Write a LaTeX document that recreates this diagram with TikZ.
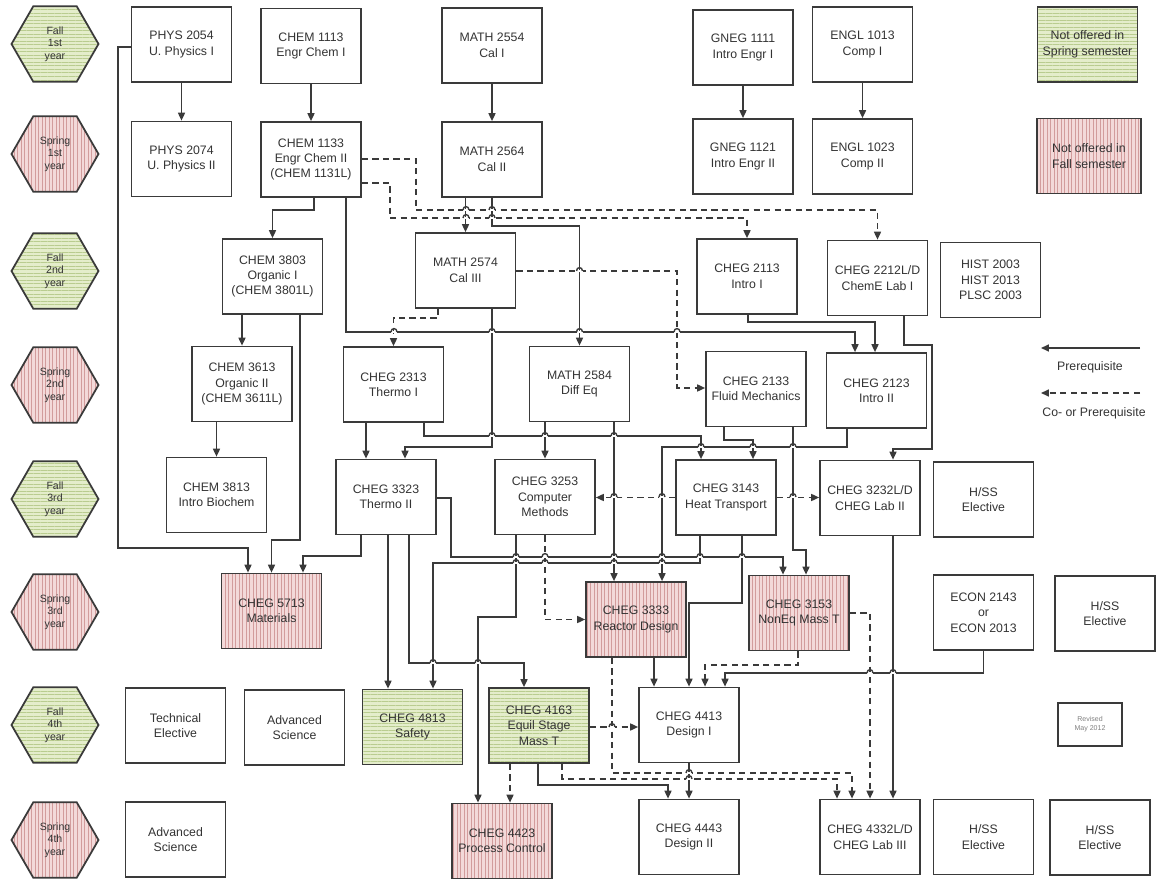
\documentclass[tikz,border=0pt]{standalone}
\usepackage{fontspec}
\setmainfont{Liberation Sans}
\usetikzlibrary{arrows.meta,shapes.geometric,patterns.meta}
\definecolor{linec}{HTML}{3A3A3A}
\definecolor{textc}{HTML}{333333}
\definecolor{greenbg}{HTML}{E4EDCB}
\definecolor{greenln}{HTML}{B9CC8F}
\definecolor{pinkbg}{HTML}{F3D9D9}
\definecolor{pinkln}{HTML}{D29C9C}
\newcommand\crsfont{\fontsize{7}{8.8}\selectfont}
\newcommand\hexfont{\fontsize{6}{7}\selectfont}
\newcommand\revfont{\fontsize{4}{5}\selectfont}
\begin{document}
\begin{tikzpicture}[x=0.02cm,y=-0.02cm]
        \tikzset{course/.style = {draw=linec,line width=1pt,fill=white,align=center,font=\crsfont,text=textc,inner sep=1pt,minimum width=2cm,minimum height=1.5cm}};
        \tikzset{fallonly/.style = {course,preaction={fill=greenbg},pattern={Lines[angle=0,distance=2pt,line width=0.35pt]},pattern color=greenln}};
        \tikzset{springonly/.style = {course,preaction={fill=pinkbg},pattern={Lines[angle=90,distance=2pt,line width=0.35pt]},pattern color=pinkln}};
        \tikzset{term/.style = {regular polygon,regular polygon sides=6,minimum size=1.74cm,inner sep=0pt,draw=linec,line width=1pt,align=center,font=\hexfont,text=textc}};
        \tikzset{fallterm/.style = {term,preaction={fill=greenbg},pattern={Lines[angle=0,distance=2pt,line width=0.35pt]},pattern color=greenln}};
        \tikzset{springterm/.style = {term,preaction={fill=pinkbg},pattern={Lines[angle=90,distance=2pt,line width=0.35pt]},pattern color=pinkln}};
        \tikzset{pre/.style = {draw=linec,line width=0.8pt,-{Triangle[length=4.5pt,width=4pt]}}};
        \tikzset{co/.style = {pre,dash pattern=on 3.5pt off 2.5pt}};
        \tikzset{link/.style = {draw=linec,line width=0.8pt}};
        \tikzset{hop/.pic = {\fill[white] (-3,-1.3) rectangle (3,1.3); \draw[link] (-3,0) .. controls (-3,-4.5) and (3,-4.5) .. (3,0);}};
        \useasboundingbox (0,0) rectangle (1156,881);
        \node[fallterm] (hexF1) at (55,44) {Fall\\1st\\year};
        \node[springterm] (hexS1) at (55,154) {Spring\\1st\\year};
        \node[fallterm] (hexF2) at (55,271) {Fall\\2nd\\year};
        \node[springterm] (hexS2) at (55,385) {Spring\\2nd\\year};
        \node[fallterm] (hexF3) at (55,499) {Fall\\3rd\\year};
        \node[springterm] (hexS3) at (55,612) {Spring\\3rd\\year};
        \node[fallterm] (hexF4) at (55,725) {Fall\\4th\\year};
        \node[springterm] (hexS4) at (55,840) {Spring\\4th\\year};
        \node[course] (physA) at (181.5,44.5) {PHYS 2054\\U. Physics I};
        \node[course] (chemA) at (311,46) {CHEM 1113\\Engr Chem I};
        \node[course] (mathA) at (492,45.5) {MATH 2554\\Cal I};
        \node[course] (gnegA) at (743,47.5) {GNEG 1111\\Intro Engr I};
        \node[course] (englA) at (862.5,44.5) {ENGL 1013\\Comp I};
        \node[fallonly] (legF) at (1087.5,44.5) {Not offered in\\Spring semester};
        \node[course] (physB) at (181.5,159) {PHYS 2074\\U. Physics II};
        \node[course] (chemB) at (311,159.5) {CHEM 1133\\Engr Chem II\\(CHEM 1131L)};
        \node[course] (mathB) at (492,159.5) {MATH 2564\\Cal II};
        \node[course] (gnegB) at (743,156.5) {GNEG 1121\\Intro Engr II};
        \node[course] (englB) at (862.5,156.5) {ENGL 1023\\Comp II};
        \node[springonly,minimum width=2.08cm] (legS) at (1089,156) {Not offered in\\Fall semester};
        \node[course] (chemC) at (272.5,276.5) {CHEM 3803\\Organic I\\(CHEM 3801L)};
        \node[course] (mathC) at (465.5,270.5) {MATH 2574\\Cal III};
        \node[course] (chegA) at (747,276.5) {CHEG 2113\\Intro I};
        \node[course] (chegB) at (877.5,278) {CHEG 2212L/D\\ChemE Lab I};
        \node[course] (hist) at (990.5,280) {HIST 2003\\HIST 2013\\PLSC 2003};
        \node[course] (chemD) at (242,384) {CHEM 3613\\Organic II\\(CHEM 3611L)};
        \node[course] (chegC) at (393.5,384.5) {CHEG 2313\\Thermo I};
        \node[course] (mathD) at (579.5,384) {MATH 2584\\Diff Eq};
        \node[course] (chegD) at (756,389) {CHEG 2133\\Fluid Mechanics};
        \node[course] (chegE) at (876.5,390.5) {CHEG 2123\\Intro II};
        \node[course] (chemE) at (216.5,495) {CHEM 3813\\Intro Biochem};
        \node[course] (chegF) at (386,497) {CHEG 3323\\Thermo II};
        \node[course] (chegG) at (545,497) {CHEG 3253\\Computer\\Methods};
        \node[course] (chegH) at (726,497.5) {CHEG 3143\\Heat Transport};
        \node[course] (chegI) at (870,498) {CHEG 3232L/D\\CHEG Lab II};
        \node[course] (hssA) at (983.5,499.5) {H/SS\\Elective};
        \node[springonly] (chegJ) at (271.5,611) {CHEG 5713\\Materials};
        \node[springonly] (chegK) at (636,619.5) {CHEG 3333\\Reactor Design};
        \node[springonly] (chegL) at (799,613) {CHEG 3153\\NonEq Mass T};
        \node[course] (econ) at (983.5,612.5) {ECON 2143\\or\\ECON 2013};
        \node[course] (hssB) at (1105,613.5) {H/SS\\Elective};
        \node[course] (techE) at (175.5,725.5) {Technical\\Elective};
        \node[course] (advA) at (294.5,727.5) {Advanced\\Science};
        \node[fallonly] (chegM) at (412.5,727) {CHEG 4813\\Safety};
        \node[fallonly] (chegN) at (539,725.5) {CHEG 4163\\Equil Stage\\Mass T};
        \node[course] (chegO) at (689,725) {CHEG 4413\\Design I};
        \node[course,minimum width=1.28cm,minimum height=0.86cm,line width=0.8pt,font=\revfont,text=gray] (revised) at (1090,724.5) {Revised\\May 2012};
        \node[course] (advB) at (175.5,839.5) {Advanced\\Science};
        \node[springonly] (chegP) at (502,841) {CHEG 4423\\Process Control};
        \node[course] (chegQ) at (689,837) {CHEG 4443\\Design II};
        \node[course] (chegR) at (870,837) {CHEG 4332L/D\\CHEG Lab III};
        \node[course] (hssC) at (983.5,837) {H/SS\\Elective};
        \node[course] (hssD) at (1100,837.5) {H/SS\\Elective};
        \coordinate (solidA) at (1140,348);
        \coordinate (solidB) at (1041,348);
        \coordinate (dashA) at (1140,393);
        \coordinate (dashB) at (1041,393);
        \node[font=\crsfont,text=textc] (preLbl) at (1090,367) {Prerequisite};
        \node[font=\crsfont,text=textc] (coLbl) at (1094,413) {Co- or Prerequisite};
        \draw[pre] (solidA) -- (solidB);
        \draw[co] (dashA) -- (dashB);
        \draw[pre] (physA) -- (physB);
        \draw[pre] (chemA) -- (chemB);
        \draw[pre] (mathA) -- (mathB);
        \draw[pre] (gnegA) -- (gnegB);
        \draw[pre] (englA) -- (englB);
        \draw[pre] (physA.west |- 0,47) -- (118,47) -- (118,548) -| (chegJ.north -| 248,0);
        \draw[pre] (chemB.south -| 314,0) -- (314,210) -| (chemC);
        \draw[pre] (chemB.south -| 346,0) -- (346,332) -| (chegE.north -| 855,0);
        \draw[co] (chemB.east |- 0,159) -| (416,210) -| (chegB);
        \draw[co] (chemB.east |- 0,183) -| (390,218) -| (chegA);
        \draw[pre] (mathB.south -| mathC.north) -- (mathC);
        \draw[pre] (mathB.south) -- (492,226) -| (mathD);
        \draw[co] (mathC.south -| 438,0) -- (438,318) -| (chegC);
        \draw[pre] (mathC.south -| 492,0) -- (492,447) -| (chegF.north -| 405,0);
        \draw[co] (mathC.east |- 0,271) -| (677,388) -- (chegD.west |- 0,388);
        \draw[pre] (chegA.south -| 748,0) -- (748,322) -| (chegE.north -| 875,0);
        \draw[pre] (chegB.south -| 904,0) -- (904,345) -| (932,449) -| (chegI.north -| 893,0);
        \draw[pre] (chemC.south -| chemD.north) -- (chemD);
        \draw[pre] (chemC.south -| 300,0) -- (300,540) -| (chegJ);
        \draw[pre] (chemD.south -| chemE.north) -- (chemE);
        \draw[pre] (chegC.south -| 366,0) -- (chegF.north -| 366,0);
        \draw[pre] (chegC.south -| 424,0) -- (424,436) -| (chegH.north -| 701,0);
        \draw[pre] (mathD.south -| chegG.north) -- (chegG);
        \draw[pre] (mathD.south -| 614,0) -- (chegK.north -| 614,0);
        \draw[pre] (chegD.south -| 724,0) -- (724,440) -| (chegH.north -| 753,0);
        \draw[pre] (chegD.south -| 793,0) -- (793,550) -| (chegL.north -| 806,0);
        \draw[pre] (chegE.south -| 847,0) -- (847,447) -| (chegK.north -| 662,0);
        \draw[pre] (chegF.south -| 361,0) -- (361,556) -| (chegJ.north -| 303,0);
        \draw[pre] (chegF.south -| 388,0) -- (chegM.north -| 388,0);
        \draw[pre] (chegF.south -| 409,0) -- (409,663) -| (chegN.north -| 524,0);
        \draw[pre] (chegF.east |- 0,498) -| (451,557) -| (chegL.north -| 783,0);
        \draw[co] (chegG.south) |- (chegK);
        \draw[pre] (chegG.south -| 516,0) -- (516,617) -| (chegP.north -| 478,0);
        \draw[co] (chegH.west) -- (chegG.east |- chegH.west);
        \draw[co] (chegH.east) -- (chegI.west |- chegH.east);
        \draw[pre] (chegH.south -| 700,0) -- (700,563) -| (chegM.north -| 433,0);
        \draw[pre] (chegH.south -| 742,0) -- (742,603) -| (chegO.north -| 689,0);
        \draw[pre] (chegK.south -| 654,0) -- (chegO.north -| 654,0);
        \draw[co] (chegK.south -| 612,0) -- (612,773) -| (chegR.north -| 852,0);
        \draw[co] (chegL.south -| 798,0) -- (798,665) -| (chegO.north -| 705,0);
        \draw[co] (chegL.east |- 0,613) -| (chegR.north -| 870,0);
        \draw[pre] (chegI.south -| 893,0) -- (chegR.north -| 893,0);
        \draw[pre] (econ.south) -- (983.5,673) -| (chegO.north -| 725,0);
        \draw[co] (chegN.south -| 510,0) -- (chegP.north -| 510,0);
        \draw[pre] (chegN.south -| 538,0) -- (538,785) -| (chegQ.north -| 668,0);
        \draw[co] (chegN.south -| 562,0) -- (562,779) -| (chegR.north -| 837,0);
        \draw[co] (chegN.east |- 0,727) -- (chegO.west |- 0,727);
        \draw[pre] (chegO) -- (chegQ);
        \foreach \x/\y in {466/210,492/210,466/218,492/218,579.5/271,394/332,492/332,579.5/332,677/332,
                492/436,545/436,614/436,793/447,753/447,701/447,614/497,662/497,793/497,
                516/557,545/557,614/557,662/557,700/557,742/557,662/563,614/563,545/563,516/563,
                433/663,478/663,870/673,893/673,612/727,689/773,689/779}
            \pic at (\x,\y) {hop};
    \end{tikzpicture}
\end{document}
